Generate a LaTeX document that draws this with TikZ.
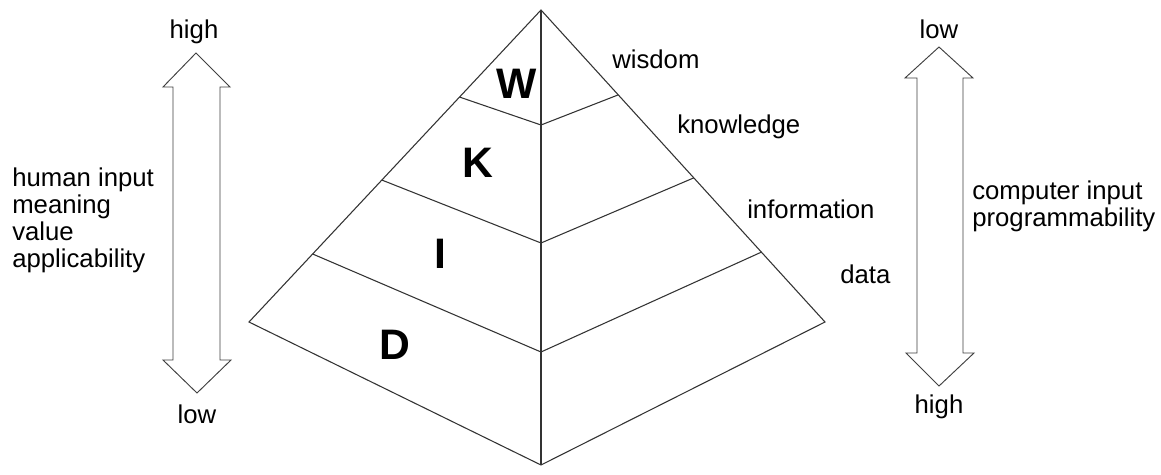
\documentclass[tikz,border=0pt]{standalone}
\usepackage{fontspec}
\setmainfont{Liberation Sans}
\usetikzlibrary{calc}
\begin{document}
\begin{tikzpicture}[x=0.75pt,y=-0.75pt,
  edge/.style={draw=black!80,line width=0.8pt,line join=miter},
  band/.style={draw=black!80,line width=0.8pt},
  arrowshape/.style={draw=black!75,line width=0.7pt,fill=white,line join=miter},
  lbl/.style={anchor=base west,inner sep=0pt,font=\fontsize{19.3}{21}\selectfont},
  lblc/.style={anchor=base,inner sep=0pt,font=\fontsize{19.3}{21}\selectfont},
  big/.style={inner sep=0pt,font=\fontsize{32}{35}\selectfont\bfseries}]
\useasboundingbox[fill=white] (0,0) rectangle (1161,475);
% pyramid
\coordinate (A) at (541,10);
\coordinate (L) at (249,322);
\coordinate (R) at (825,322);
\coordinate (B) at (541,465);
\draw[edge] (A) -- (L) -- (B) -- (R) -- cycle;
\draw[edge] (A) -- (B);
\coordinate (l1) at ($(A)!0.279!(L)$);
\coordinate (l2) at ($(A)!0.545!(L)$);
\coordinate (l3) at ($(A)!0.782!(L)$);
\coordinate (r1) at ($(A)!0.272!(R)$);
\coordinate (r2) at ($(A)!0.538!(R)$);
\coordinate (r3) at ($(A)!0.776!(R)$);
\coordinate (c1) at (541,125);
\coordinate (c2) at (541,243);
\coordinate (c3) at (541,352);
\draw[band] (l1) -- (c1) -- (r1);
\draw[band] (l2) -- (c2) -- (r2);
\draw[band] (l3) -- (c3) -- (r3);
% letters
\node[big] (W) at (517,84) {W};
\node[big] (K) at (478,163) {K};
\node[big] (I) at (440,254) {I};
\node[big] (D) at (395,345) {D};
% level labels
\node[lbl] (wis) at (612,68) {wisdom};
\node[lbl] (kno) at (677,133) {knowledge};
\node[lbl] (inf) at (747,218) {information};
\node[lbl] (dat) at (840,283) {data};
% left arrow
\draw[arrowshape] (196,53) -- (230,87) -- (220,87) -- (220,360) -- (231,360) -- (197,393) -- (163,360) -- (173,360) -- (173,87) -- (163,87) -- cycle;
\node[lblc] (lhigh) at (194,38) {high};
\node[lblc] (llow) at (197,423) {low};
\node[lbl] (h1) at (12,186) {human input};
\node[lbl] (h2) at (12,213) {meaning};
\node[lbl] (h3) at (12,240) {value};
\node[lbl] (h4) at (12,267) {applicability};
% right arrow
\draw[arrowshape] (939,47) -- (973,78) -- (963,78) -- (963,353) -- (974,353) -- (939,386) -- (906,353) -- (917,353) -- (917,78) -- (905,78) -- cycle;
\node[lblc] (rlow) at (939,38) {low};
\node[lblc] (rhigh) at (939,413) {high};
\node[lbl] (c1t) at (972,199) {computer input};
\node[lbl] (c2t) at (972,226) {programmability};
\end{tikzpicture}
\end{document}
